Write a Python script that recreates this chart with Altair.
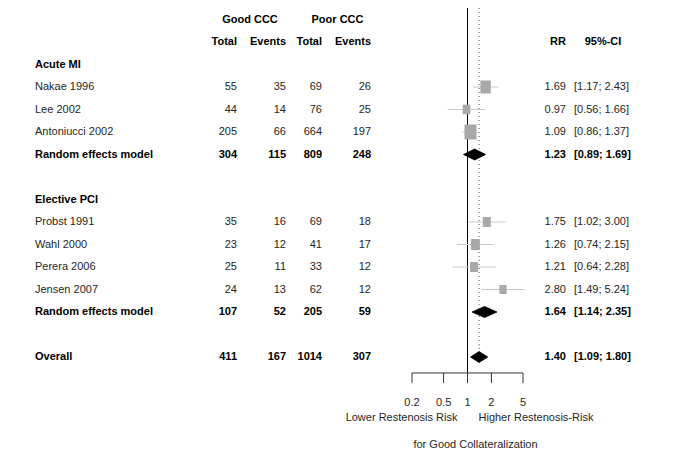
import altair as alt
import pandas as pd

# ---------------- data ----------------
studies = ["Nakae 1996", "Lee 2002", "Antoniucci 2002",
           "Probst 1991", "Wahl 2000", "Perera 2006", "Jensen 2007"]
study_rows = [3, 4, 5, 9, 10, 11, 12]
good_total = [55, 44, 205, 35, 23, 25, 24]
good_events = [35, 14, 66, 16, 12, 11, 13]
poor_total = [69, 76, 664, 69, 41, 33, 62]
poor_events = [26, 25, 197, 18, 17, 12, 12]
rr = [1.69, 0.97, 1.09, 1.75, 1.26, 1.21, 2.80]
ci_lo = [1.17, 0.56, 0.86, 1.02, 0.74, 0.64, 1.49]
ci_hi = [2.43, 1.66, 1.37, 3.00, 2.15, 2.28, 5.24]
weight = [19.1, 10.2, 25.4, 11.3, 13.7, 11.3, 9.1]

pooled_labels = ["Random effects model", "Random effects model", "Overall"]
pooled_rows = [6, 13, 15]
pooled_good_total = [304, 107, 411]
pooled_good_events = [115, 52, 167]
pooled_poor_total = [809, 205, 1014]
pooled_poor_events = [248, 59, 307]
pooled_rr = [1.23, 1.64, 1.40]
pooled_lo = [0.89, 1.14, 1.09]
pooled_hi = [1.69, 2.35, 1.80]

subgroups = ["Acute MI", "Elective PCI"]
subgroup_rows = [2, 8]

ticks = [0.2, 0.5, 1, 2, 5]
tick_labels = ["0.2", "0.5", "1", "2", "5"]

# ---------------- layout constants ----------------
FONT = "Liberation Sans"
FS = 11
TXT = "#262626"
ROW_PX = 22.5
TOP_PX = 11.5
H = 446
W = 640
r_start = -TOP_PX / ROW_PX
r_end = r_start + H / ROW_PX
TOP_R = r_start
AXIS_R = 15.71
TICK_R = 16.16
TICKLAB_R = 17.04
RISK_R = 17.71
FOR_R = 18.9
DIAM_H = 0.245

yscale = alt.Scale(domain=[r_start, r_end], range=[0, H], nice=False, zero=False)
xscale = alt.Scale(type="log", domain=[0.2, 5], range=[404, 515], nice=False)


def Y(field="row"):
    return alt.Y(f"{field}:Q", scale=yscale, axis=None)


def X(field):
    return alt.X(f"{field}:Q", scale=xscale, axis=None)


def fmt_ci(lo, hi):
    return f"[{lo:.2f}; {hi:.2f}]"


# ---------------- tables ----------------
study_df = pd.DataFrame({
    "row": study_rows, "label": studies,
    "gt": [str(v) for v in good_total], "ge": [str(v) for v in good_events],
    "pt": [str(v) for v in poor_total], "pe": [str(v) for v in poor_events],
    "rr": rr, "lo": ci_lo, "hi": ci_hi, "weight": weight,
    "rrt": [f"{v:.2f}" for v in rr],
    "cit": [fmt_ci(a, b) for a, b in zip(ci_lo, ci_hi)],
})
pooled_df = pd.DataFrame({
    "row": pooled_rows, "label": pooled_labels,
    "gt": [str(v) for v in pooled_good_total], "ge": [str(v) for v in pooled_good_events],
    "pt": [str(v) for v in pooled_poor_total], "pe": [str(v) for v in pooled_poor_events],
    "rr": pooled_rr, "lo": pooled_lo, "hi": pooled_hi,
    "rrt": [f"{v:.2f}" for v in pooled_rr],
    "cit": [fmt_ci(a, b) for a, b in zip(pooled_lo, pooled_hi)],
})
sub_df = pd.DataFrame({"row": subgroup_rows, "label": subgroups})

hdr1 = pd.DataFrame({"row": [0, 0], "label": ["Good CCC", "Poor CCC"], "px": [242, 329.5]})
hdr2 = pd.DataFrame({"row": [1] * 4, "label": ["Total", "Events", "Total", "Events"],
                     "px": [229, 278, 314, 363]})


def text(df, field, px, align, bold=False, color=TXT, dx=0):
    return alt.Chart(df).mark_text(
        align=align, baseline="middle", font=FONT, fontSize=FS,
        fontWeight="bold" if bold else "normal", color=color, dx=dx
    ).encode(x=alt.value(px), y=Y(), text=f"{field}:N")


layers = []

# headers
for _, r in hdr1.iterrows():
    layers.append(text(pd.DataFrame([r]), "label", r["px"], "center", bold=True, color="black"))
for _, r in hdr2.iterrows():
    layers.append(text(pd.DataFrame([r]), "label", r["px"], "right", bold=True, color="black"))
hdr_rr = pd.DataFrame({"row": [1], "a": ["RR"], "b": ["95%-CI"]})
layers.append(text(hdr_rr, "a", 558, "right", bold=True, color="black"))
layers.append(text(hdr_rr, "b", 595, "center", bold=True, color="black"))

# subgroup titles
layers.append(text(sub_df, "label", 27, "left", bold=True, color="black"))

# study rows
for field, px, al in [("label", 27, "left"), ("gt", 229, "right"), ("ge", 278, "right"),
                      ("pt", 314, "right"), ("pe", 363, "right"),
                      ("rrt", 558, "right"), ("cit", 566, "left")]:
    layers.append(text(study_df, field, px, al))
    layers.append(text(pooled_df, field, px, al, bold=True, color="black"))

# vertical reference lines
ref_df = pd.DataFrame({"x": [1.0], "y": [TOP_R], "y2": [AXIS_R]})
layers.append(alt.Chart(ref_df).mark_rule(color="black", strokeWidth=1).encode(
    x=X("x"), y=Y("y"), y2="y2"))
dot_df = pd.DataFrame({"x": [pooled_rr[-1]], "y": [TOP_R], "y2": [pooled_rows[-1]]})
layers.append(alt.Chart(dot_df).mark_rule(color="#555555", strokeWidth=1, strokeDash=[1, 3]).encode(
    x=X("x"), y=Y("y"), y2="y2"))

# CI lines
layers.append(alt.Chart(study_df).mark_rule(color="#c8c8c8", strokeWidth=1).encode(
    x=X("lo"), x2="hi", y=Y()))

# squares
layers.append(alt.Chart(study_df).mark_point(
    shape="M-0.8,-1H0.8V1H-0.8Z", filled=True, color="#a8a8a8", opacity=1, strokeWidth=0
).encode(x=X("rr"), y=Y(),
         size=alt.Size("weight:Q", scale=alt.Scale(domain=[0, 25.4], range=[0, 225]), legend=None)))

# diamonds
drows = []
for i, (r, e, lo, hi) in enumerate(zip(pooled_rows, pooled_rr, pooled_lo, pooled_hi)):
    drows.append({"id": i, "x": lo, "y": r, "y2": r})
    drows.append({"id": i, "x": e, "y": r - DIAM_H, "y2": r + DIAM_H})
    drows.append({"id": i, "x": hi, "y": r, "y2": r})
diam_df = pd.DataFrame(drows)
layers.append(alt.Chart(diam_df).mark_area(
    color="black", orient="vertical", stroke="black", strokeWidth=0.8, opacity=1
).encode(x=X("x"), y=Y("y"), y2="y2", detail="id:N"))

# x axis (drawn)
axis_df = pd.DataFrame({"x": [ticks[0]], "x2": [ticks[-1]], "y": [AXIS_R]})
layers.append(alt.Chart(axis_df).mark_rule(color="#333333", strokeWidth=1).encode(
    x=X("x"), x2="x2", y=Y("y")))
tick_df = pd.DataFrame({"x": ticks, "y": [AXIS_R] * 5, "y2": [TICK_R] * 5,
                        "ly": [TICKLAB_R] * 5, "lab": tick_labels})
layers.append(alt.Chart(tick_df).mark_rule(color="#333333", strokeWidth=1).encode(
    x=X("x"), y=Y("y"), y2="y2"))
layers.append(alt.Chart(tick_df).mark_text(
    font=FONT, fontSize=FS, color=TXT, baseline="middle", align="center"
).encode(x=X("x"), y=Y("ly"), text="lab:N"))

risk_df = pd.DataFrame({"x": [1.0], "y": [RISK_R], "lo": ["Lower Restenosis Risk"],
                        "hi": ["Higher Restenosis-Risk"], "fy": [FOR_R],
                        "f": ["for Good Collateralization"]})
layers.append(alt.Chart(risk_df).mark_text(
    font=FONT, fontSize=FS, color=TXT, baseline="middle", align="right", dx=-10
).encode(x=X("x"), y=Y("y"), text="lo:N"))
layers.append(alt.Chart(risk_df).mark_text(
    font=FONT, fontSize=FS, color=TXT, baseline="middle", align="left", dx=11
).encode(x=X("x"), y=Y("y"), text="hi:N"))
layers.append(alt.Chart(risk_df).mark_text(
    font=FONT, fontSize=FS, color=TXT, baseline="middle", align="center", dx=8
).encode(x=X("x"), y=Y("fy"), text="f:N"))

chart = alt.layer(*layers).properties(
    width=W, height=H, autosize="none", padding=0, background="white"
).configure_view(stroke=None)

chart.save("out.html", embed_options={"renderer": "svg", "actions": False})
